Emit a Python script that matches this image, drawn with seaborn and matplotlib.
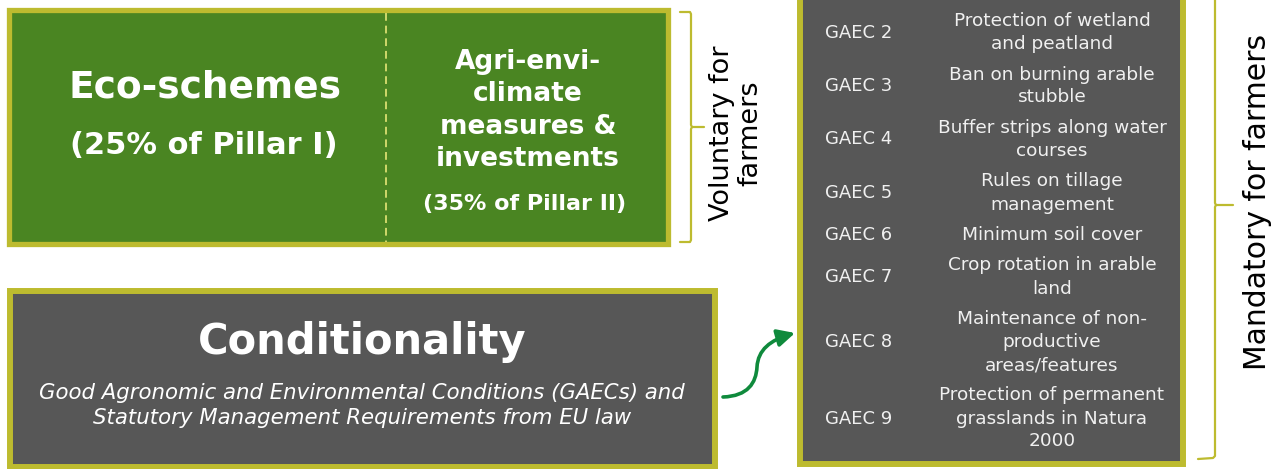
"""
CAP green architecture: eco-schemes, agri-environment measures and conditionality (GAECs)
"""
import matplotlib
matplotlib.use("Agg")
import matplotlib.pyplot as plt
import seaborn as sns
from matplotlib.patches import Rectangle, FancyArrowPatch
from matplotlib.path import Path

# ---------------------------------------------------------------------------
# Content
eco_title = "Eco-schemes"
eco_share = "(25% of Pillar I)"
aecm_lines = ["Agri-envi-", "climate", "measures &", "investments"]
aecm_share = "(35% of Pillar II)"
voluntary_label = "Voluntary for\nfarmers"
cond_title = "Conditionality"
cond_lines = ["Good Agronomic and Environmental Conditions (GAECs) and",
              "Statutory Management Requirements from EU law"]
mandatory_label = "Mandatory for farmers"

gaec_codes = ["GAEC 2", "GAEC 3", "GAEC 4", "GAEC 5",
              "GAEC 6", "GAEC 7", "GAEC 8", "GAEC 9"]
gaec_descriptions = [
    ["Protection of wetland", "and peatland"],
    ["Ban on burning arable", "stubble"],
    ["Buffer strips along water", "courses"],
    ["Rules on tillage", "management"],
    ["Minimum soil cover"],
    ["Crop rotation in arable", "land"],
    ["Maintenance of non-", "productive", "areas/features"],
    ["Protection of permanent", "grasslands in Natura", "2000"],
]

# ---------------------------------------------------------------------------
# Style
GREEN = "#4a8522"
OLIVE = "#bdbb2f"
GREY = "#575757"
DASH = "#cfd86a"
ARROW = "#0f8a3c"
LIGHT = "#f0f0f0"

sns.set_theme(style="white")
plt.rcParams["font.family"] = ["DejaVu Sans"]

fig = plt.figure(figsize=(12.82, 4.69), dpi=100)
ax = fig.add_axes([0, 0, 1, 1])
ax.set_xlim(0, 1282)
ax.set_ylim(469, 0)
ax.axis("off")


def box(x0, y0, x1, y1, face, lw=3.8):
    ax.add_patch(Rectangle((x0, y0), x1 - x0, y1 - y0, facecolor=face,
                           edgecolor=OLIVE, linewidth=lw, clip_on=True))


# --- voluntary block --------------------------------------------------------
box(8.5, 10.5, 667.5, 244.5, GREEN)
ax.plot([386, 386], [13, 242], color=DASH, lw=1.4, ls=(0, (4, 2.5)))

ax.text(205, 88, eco_title, color="white", fontsize=27, fontweight="bold",
        ha="center", va="center")
ax.text(204, 145, eco_share, color="white", fontsize=22, fontweight="bold",
        ha="center", va="center")
for i, line in enumerate(aecm_lines):
    ax.text(528, 62 + 32.3 * i, line, color="white", fontsize=19,
            fontweight="bold", ha="center", va="center")
ax.text(525, 204, aecm_share, color="white", fontsize=16, fontweight="bold",
        ha="center", va="center")

# brace for voluntary block
ax.plot([680, 690, 691, 691, 692, 704], [12, 12, 14, 125, 127, 127],
        color=OLIVE, lw=1.6, solid_joinstyle="round")
ax.plot([680, 690, 691, 691, 692], [242, 242, 240, 129, 127],
        color=OLIVE, lw=1.6, solid_joinstyle="round")
ax.text(736, 133, voluntary_label, rotation=90, fontsize=19.5, color="black",
        ha="center", va="center", linespacing=1.12)

# --- conditionality block ---------------------------------------------------
box(10, 291, 715, 467, GREY, lw=4.3)
ax.text(362, 342, cond_title, color="white", fontsize=30, fontweight="bold",
        ha="center", va="center")
for i, line in enumerate(cond_lines):
    ax.text(362, 393 + 25 * i, line, color="white", fontsize=15.3,
            style="italic", ha="center", va="center")

# curved arrow to the GAEC list
arrow_path = Path([(723, 397), (748, 396), (756, 383), (757, 367),
                   (758, 350), (770, 340), (795, 333)],
                  [Path.MOVETO, Path.CURVE4, Path.CURVE4, Path.CURVE4,
                   Path.CURVE4, Path.CURVE4, Path.CURVE4])
ax.add_patch(FancyArrowPatch(path=arrow_path, arrowstyle="-|>",
                             mutation_scale=26, lw=2.6, color=ARROW))

# --- GAEC list --------------------------------------------------------------
box(800, -20, 1183, 464, GREY, lw=4.3)

line_step = 23
row_gap = 30.5
y = 21
for code, desc in zip(gaec_codes, gaec_descriptions):
    ys = [y + line_step * k for k in range(len(desc))]
    ax.text(825, sum(ys) / len(ys), code, color=LIGHT, fontsize=13,
            ha="left", va="center")
    for yy, line in zip(ys, desc):
        ax.text(1052, yy, line, color=LIGHT, fontsize=13.3,
                ha="center", va="center")
    y = ys[-1] + row_gap

# brace for mandatory block
ax.plot([1215, 1215, 1216, 1233], [-5, 203, 205, 205],
        color=OLIVE, lw=1.6, solid_joinstyle="round")
ax.plot([1216, 1215, 1215, 1213, 1198], [205, 207, 456, 458, 459],
        color=OLIVE, lw=1.6, solid_joinstyle="round")
ax.text(1257, 202, mandatory_label, rotation=90, fontsize=21.5, color="black",
        ha="center", va="center")

fig.savefig("out.png", dpi=100)
